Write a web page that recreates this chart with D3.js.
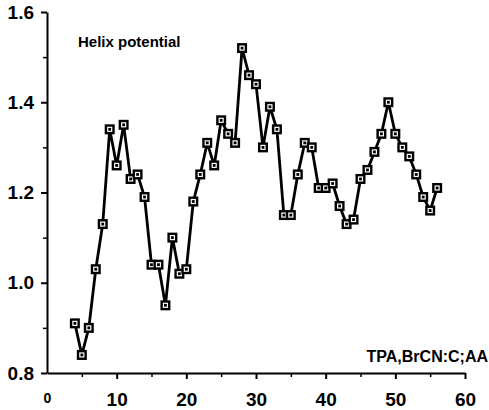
<!DOCTYPE html>
<html>
<head>
<meta charset="utf-8">
<script src="https://cdn.jsdelivr.net/npm/d3@7"></script>
<style>
  body { margin: 0; background: #fff; }
  svg { display: block; font-family: "Liberation Sans", Arial, sans-serif; }
  .axis path, .axis line { stroke: #000; }
  .axis text { font-weight: bold; fill: #000; }
</style>
</head>
<body>
<div id="chart"></div>
<script>
// Residue position and helix potential.
const positions = d3.range(4, 57);
const potential = [
  0.91, 0.84, 0.90, 1.03, 1.13, 1.34, 1.26, 1.35, 1.23, 1.24,
  1.19, 1.04, 1.04, 0.95, 1.10, 1.02, 1.03, 1.18, 1.24, 1.31,
  1.26, 1.36, 1.33, 1.31, 1.52, 1.46, 1.44, 1.30, 1.39, 1.34,
  1.15, 1.15, 1.24, 1.31, 1.30, 1.21, 1.21, 1.22, 1.17, 1.13,
  1.14, 1.23, 1.25, 1.29, 1.33, 1.40, 1.33, 1.30, 1.28, 1.24,
  1.19, 1.16, 1.21
];
const xTicks = [0, 10, 20, 30, 40, 50, 60];
const xMinor = [5, 15, 25, 35, 45, 55];
const yTicks = [0.8, 1.0, 1.2, 1.4, 1.6];
const yMinor = [0.9, 1.1, 1.3, 1.5];

const width = 489;
const height = 410;

let svg = d3.select('#chart')
  .append('svg')
  .attr('width', width)
  .attr('height', height);

let x = d3.scaleLinear().domain([0, 60]).range([47, 465]);
let y = d3.scaleLinear().domain([0.8, 1.6]).range([373, 12]);

// Minor ticks first, so the main axis line sits on top.
svg.append('g')
  .attr('class', 'axis')
  .attr('transform', `translate(0,${y(0.8)})`)
  .call(d3.axisBottom(x).tickValues(xMinor).tickSize(4).tickFormat(''))
  .call(g => g.select('.domain').remove())
  .selectAll('line').attr('stroke-width', 1.5);

svg.append('g')
  .attr('class', 'axis')
  .attr('transform', `translate(${x(0)},0)`)
  .call(d3.axisLeft(y).tickValues(yMinor).tickSize(4).tickFormat(''))
  .call(g => g.select('.domain').remove())
  .selectAll('line').attr('stroke-width', 1.5);

let xAxis = svg.append('g')
  .attr('class', 'axis')
  .attr('transform', `translate(0,${y(0.8)})`)
  .call(d3.axisBottom(x)
    .tickValues(xTicks)
    .tickSize(6)
    .tickSizeOuter(0)
    .tickPadding(14)
    .tickFormat(d3.format('d')));
xAxis.select('.domain').attr('stroke-width', 2);
xAxis.selectAll('line').attr('stroke-width', 2);
xAxis.selectAll('text')
  .style('font-size', d => d === 0 ? '14px' : '19px');
xAxis.selectAll('.tick').filter(d => d === 0).select('line').remove();

let yAxis = svg.append('g')
  .attr('class', 'axis')
  .attr('transform', `translate(${x(0)},0)`)
  .call(d3.axisLeft(y)
    .tickValues(yTicks)
    .tickSize(6)
    .tickSizeOuter(0)
    .tickPadding(7)
    .tickFormat(d3.format('.1f')));
yAxis.select('.domain').attr('stroke-width', 2);
yAxis.selectAll('line').attr('stroke-width', 2);
yAxis.selectAll('text').style('font-size', '19px');

let line = d3.line()
  .x((d, i) => x(positions[i]))
  .y(d => y(d));

svg.append('path')
  .datum(potential)
  .attr('fill', 'none')
  .attr('stroke', '#000')
  .attr('stroke-width', 2.8)
  .attr('stroke-linejoin', 'miter')
  .attr('d', line);

let marks = svg.append('g')
  .selectAll('g')
  .data(potential)
  .enter()
  .append('g')
    .attr('transform', (d, i) => `translate(${x(positions[i])},${y(d)})`);

marks.append('rect')
  .attr('x', -5).attr('y', -5)
  .attr('width', 10).attr('height', 10)
  .attr('fill', '#000');

marks.append('rect')
  .attr('x', -2).attr('y', -2)
  .attr('width', 4).attr('height', 4)
  .attr('fill', 'none')
  .attr('stroke', '#fff')
  .attr('stroke-width', 1.2);

svg.append('text')
  .attr('x', 78)
  .attr('y', 47)
  .style('font-size', '15px')
  .style('font-weight', 'bold')
  .text('Helix potential');

svg.append('text')
  .attr('x', 488)
  .attr('y', 362)
  .attr('text-anchor', 'end')
  .style('font-size', '16px')
  .style('font-weight', 'bold')
  .text('TPA,BrCN:C;AA');
</script>
</body>
</html>
